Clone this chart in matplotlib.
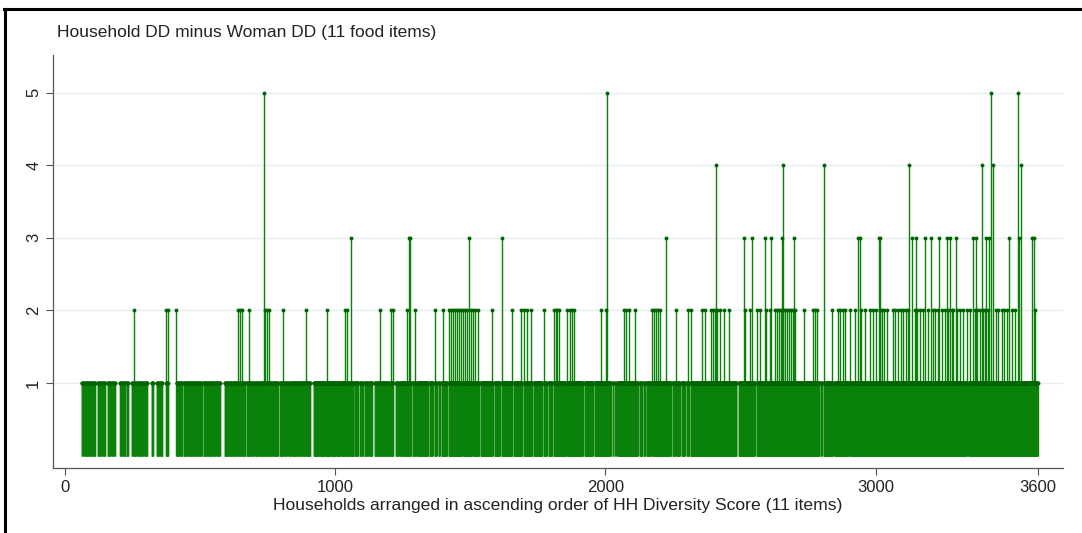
import matplotlib
matplotlib.use("Agg")
import matplotlib.pyplot as plt
import numpy as np
from matplotlib.lines import Line2D

plt.rcParams["font.family"] = ["Liberation Sans", "DejaVu Sans"]

# households numbered 1..3600, sorted by HH diversity score
n_households = 3600

# runs of households (start, end) where HH DD - woman DD >= 1
ones_runs = [
    (63, 66), (69, 70), (76, 81), (87, 90), (94, 96), (100, 103), (107, 111), (122, 125), (128, 130),
    (135, 138), (142, 144), (147, 148), (159, 162), (165, 167), (172, 175), (179, 181), (184, 185),
    (204, 207), (210, 211), (216, 222), (228, 233), (248, 251), (254, 255), (259, 262), (265, 266),
    (272, 275), (278, 281), (285, 288), (291, 292), (298, 303), (322, 326), (340, 343), (346, 348),
    (353, 359), (374, 381), (414, 417), (420, 422), (427, 433), (440, 443), (446, 448), (453, 456),
    (460, 463), (466, 469), (472, 474), (479, 482), (485, 488), (492, 495), (498, 501), (505, 507),
    (514, 517), (520, 525), (531, 534), (537, 540), (544, 547), (551, 555), (561, 564), (567, 570),
    (573, 574), (592, 595), (598, 603), (609, 612), (615, 618), (623, 626), (629, 632), (635, 636),
    (640, 644), (648, 651), (657, 660), (663, 666), (673, 676), (679, 685), (690, 693), (696, 699),
    (705, 708), (711, 714), (720, 724), (727, 733), (740, 743), (746, 751), (757, 760), (763, 766),
    (771, 775), (778, 782), (785, 788), (796, 800), (803, 807), (812, 815), (818, 821), (827, 830),
    (833, 836), (842, 846), (849, 855), (860, 864), (867, 870), (875, 879), (882, 888), (895, 899),
    (902, 907), (921, 940), (944, 960), (964, 981), (986, 1000), (1004, 1018), (1023, 1036),
    (1040, 1051), (1056, 1068), (1072, 1084), (1092, 1096), (1100, 1103), (1110, 1114), (1118, 1121),
    (1127, 1136), (1147, 1152), (1156, 1166), (1171, 1177), (1181, 1188), (1193, 1200), (1204, 1214),
    (1225, 1229), (1233, 1236), (1241, 1248), (1252, 1262), (1265, 1271), (1275, 1280), (1288, 1295),
    (1301, 1306), (1310, 1325), (1328, 1343), (1350, 1361), (1368, 1376),
    (1383, 1387), (1394, 1413), (1420, 1469), (1476, 1506), (1513, 1532), (1539, 1583), (1590, 1609),
    (1616, 1654), (1661, 1691), (1698, 1728), (1735, 1765), (1772, 1783), (1790, 1802), (1809, 1853),
    (1860, 1916), (1923, 1953), (1960, 2020), (2027, 2029), (2036, 2038), (2045, 2120), (2127, 2135),
    (2142, 2146), (2153, 2168), (2175, 2242), (2249, 2257), (2264, 2275), (2282, 2294), (2301, 2309),
    (2316, 2485), (2494, 2553), (2560, 2790), (2797, 2801), (2808, 2841), (2848, 2901), (2908, 3337),
    (3344, 3600),
]

# households with a difference of 2, 3, 4 and 5
twos = [255, 374, 381, 411, 640, 648, 655, 681, 740, 748, 755, 807, 892, 969, 1036, 1043, 1166,
        1206, 1214, 1265, 1295, 1369, 1399, 1421, 1428, 1436, 1443, 1450, 1458, 1465, 1473, 1480,
        1487, 1502, 1510, 1517, 1528, 1580, 1654, 1687, 1698, 1709, 1724, 1772, 1809, 1817, 1820,
        1828, 1857, 1869, 1876, 1883, 1983, 2002, 2068, 2076, 2087, 2109, 2172, 2179, 2187, 2194,
        2202, 2261, 2305, 2316, 2357, 2368, 2390, 2398, 2405, 2412, 2423, 2438, 2457, 2516, 2535,
        2560, 2572, 2594, 2609, 2627, 2634, 2641, 2649, 2656, 2664, 2671, 2678, 2686, 2693, 2701,
        2734, 2768, 2775, 2782, 2838, 2860, 2868, 2879, 2886, 2905, 2923, 2934, 2945, 2960, 2979,
        2990, 3001, 3016, 3023, 3030, 3041, 3063, 3071, 3082, 3093, 3100, 3111, 3119, 3145, 3152,
        3163, 3175, 3193, 3212, 3219, 3230, 3245, 3256, 3267, 3282, 3285, 3300, 3312, 3323, 3337,
        3348, 3367, 3375, 3386, 3397, 3404, 3415, 3445, 3452, 3467, 3474, 3486, 3504, 3515, 3589]
threes = [1058, 1273, 1277, 1495, 1617, 2224, 2512, 2542, 2590, 2612, 2655, 2697, 2934, 2942,
          3012, 3018, 3134, 3149, 3182, 3204, 3234, 3263, 3275, 3297, 3360, 3371, 3408, 3419,
          3493, 3532, 3578, 3585]
fours = [2409, 2659, 2808, 3123, 3393, 3434, 3537]
fives = [736, 2005, 3426, 3527]

# build the series
hh = np.arange(1, n_households + 1)
diff = np.zeros(n_households)
for a, b in ones_runs:
    diff[a - 1:b] = 1
for level, ids in [(2, twos), (3, threes), (4, fours), (5, fives)]:
    diff[np.array(ids) - 1] = level

green = "#0a820a"
fig = plt.figure(figsize=(10.82, 5.33), dpi=100)
ax = fig.add_axes([0.049, 0.122, 0.933, 0.775])

ax.yaxis.grid(True, color="#e6eef0", linewidth=1.0)
ax.set_axisbelow(True)

m = diff > 0
ax.vlines(hh[m], 0, diff[m], color=green, linewidth=1.0)
ax.plot(hh[m], diff[m], linestyle="none", marker="o", markersize=2.8,
        color="#006400", markeredgewidth=0)

ax.set_xlim(-44, 3692)
ax.set_ylim(-0.17, 5.52)
ax.set_xticks([0, 1000, 2000, 3000, 3600])
ax.set_yticks([1, 2, 3, 4, 5])
for lab in ax.get_yticklabels():
    lab.set_rotation(90)
    lab.set_va("center")
ax.tick_params(axis="both", labelsize=12, colors="#222222", length=5, width=0.8)
ax.tick_params(axis="both", color="#555555")
for s in ["top", "right"]:
    ax.spines[s].set_visible(False)
for s in ["left", "bottom"]:
    ax.spines[s].set_color("#555555")
    ax.spines[s].set_linewidth(0.9)

ax.set_xlabel("Households arranged in ascending order of HH Diversity Score (11 items)",
              fontsize=12.6, color="#222222", labelpad=2)
fig.text(57 / 1082, 1 - 33 / 533, "Household DD minus Woman DD (11 food items)",
         fontsize=12.5, color="#222222", va="center", ha="left")

# frame of the exported graph (top and left edges visible)
fig.add_artist(Line2D([4 / 1082, 1], [1 - 8.5 / 533, 1 - 8.5 / 533], color="black", linewidth=2.2))
fig.add_artist(Line2D([5 / 1082, 5 / 1082], [0, 1 - 8.5 / 533], color="black", linewidth=2.2))

fig.savefig("out.png", dpi=100)
